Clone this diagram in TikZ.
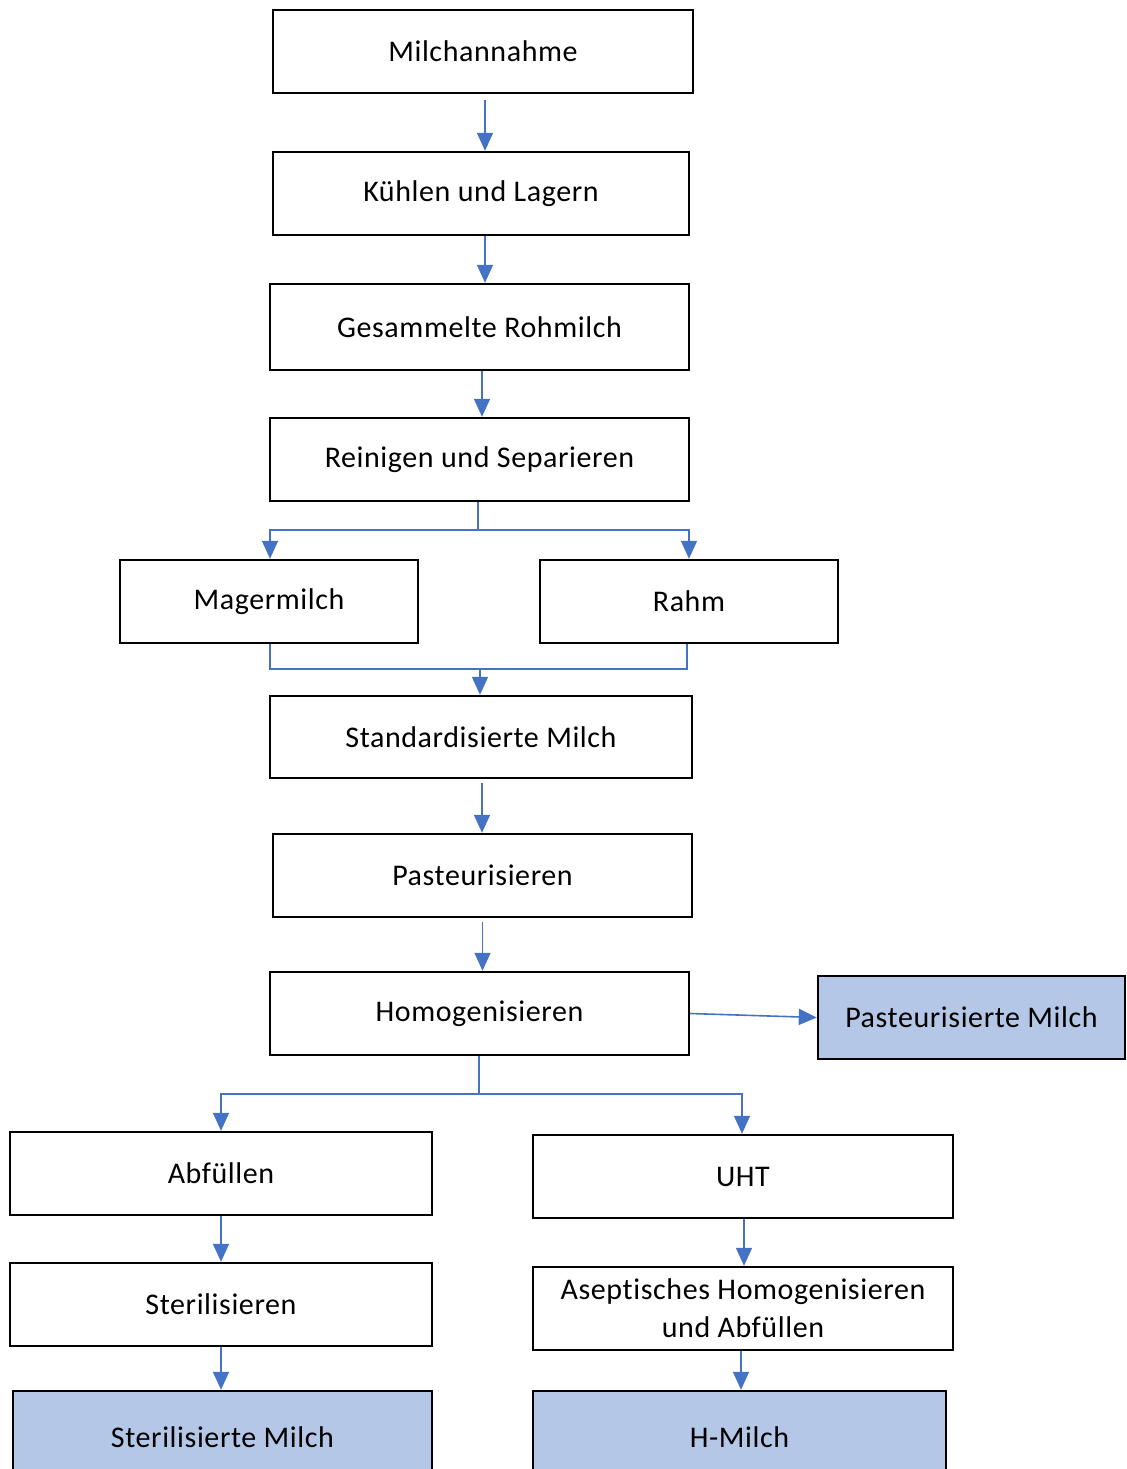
\documentclass[tikz,border=0pt]{standalone}
\usepackage{fontspec}
\setmainfont{Carlito}[LetterSpace=2, Ligatures=NoCommon, RawFeature={-liga;-dlig}]
\usetikzlibrary{arrows.meta}
\definecolor{arrblue}{HTML}{4472C4}
\definecolor{boxfill}{HTML}{B4C7E7}
\begin{document}
\begin{tikzpicture}[x=0.5pt,y=-0.5pt,
  box/.style={draw=black, line width=1.2pt, rectangle, inner sep=0pt, align=center,
    font=\fontsize{15}{19}\selectfont},
  endbox/.style={box, fill=boxfill},
  conn/.style={draw=arrblue, line width=0.8pt},
  arr/.style={conn, -{Triangle[width=8pt,length=9pt]}}]
\useasboundingbox (0,0) rectangle (1126,1469);
\begin{scope}
\clip (0,0) rectangle (1126,1469);
\node[box, minimum width=210pt, minimum height=41.5pt] (m1) at (483,51.5) {Milchannahme};
\node[box, minimum width=208pt, minimum height=41.5pt] (m2) at (481,193.5) {Kühlen und Lagern};
\node[box, minimum width=209.5pt, minimum height=43pt] (m3) at (479.5,327) {Gesammelte Rohmilch};
\node[box, minimum width=209.5pt, minimum height=41.5pt] (m4) at (479.5,459.5) {Reinigen und Separieren};
\node[box, minimum width=149pt, minimum height=41.5pt] (m5) at (269,601.5) {\raisebox{-2pt}{Magermilch}};
\node[box, minimum width=149pt, minimum height=41.5pt] (m6) at (689,601.5) {Rahm};
\node[box, minimum width=211pt, minimum height=41pt] (m7) at (481,737) {Standardisierte Milch};
\node[box, minimum width=209.5pt, minimum height=41.5pt] (m8) at (482.5,875.5) {Pasteurisieren};
\node[box, minimum width=209.5pt, minimum height=41.5pt] (m9) at (479.5,1013.5) {Homogenisieren};
\node[endbox, minimum width=153.5pt, minimum height=41.5pt] (m10) at (971.5,1017.5) {Pasteurisierte Milch};
\node[box, minimum width=211pt, minimum height=41.5pt] (m11) at (221,1173.5) {Abfüllen};
\node[box, minimum width=210pt, minimum height=41.5pt] (m12) at (743,1176.5) {UHT};
\node[box, minimum width=211pt, minimum height=41.5pt] (m13) at (221,1304.5) {Sterilisieren};
\node[box, minimum width=210pt, minimum height=41.5pt] (m14) at (743,1308.5) {Aseptisches Homogenisieren\\und Abfüllen};
\node[endbox, minimum width=209.5pt, minimum height=46pt] (m15) at (222.5,1437) {Sterilisierte Milch};
\node[endbox, minimum width=206.5pt, minimum height=46pt] (m16) at (739.5,1437) {H-Milch};
\end{scope}
% connectors
\draw[arr] ([xshift=1pt,yshift=-3pt]m1.south) -- ([xshift=1pt]m1.south |- m2.north);
\draw[arr] ([xshift=2pt]m2.south) -- ([xshift=2pt]m2.south |- m3.north);
\draw[arr] ([xshift=1.25pt]m3.south) -- ([xshift=1.25pt]m3.south |- m4.north);
\coordinate (b1) at (478,530);
\draw[arr] (m4.south -| b1) -- (b1) -| ([xshift=0.5pt]m5.north);
\draw[arr] (b1) -| (m6.north);
\coordinate (b2) at (480,669);
\draw[conn] ([xshift=0.5pt]m5.south) |- (b2) -| ([xshift=-1pt]m6.south);
\draw[arr] (b2) -- (b2 |- m7.north);
\draw[arr] ([xshift=0.5pt,yshift=-2pt]m7.south) -- ([xshift=0.5pt]m7.south |- m8.north);
\draw[arr] ([yshift=-2pt]m8.south) -- (m8.south |- m9.north);
\draw[arr] (m9.east) -- (m10.west);
\coordinate (b3) at (479,1094);
\draw[arr] (m9.south -| b3) -- (b3) -| (m11.north);
\draw[arr] (b3) -| ([xshift=-0.5pt]m12.north);
\draw[arr] (m11.south) -- (m11.south |- m13.north);
\draw[arr] ([xshift=0.5pt]m12.south) -- ([xshift=0.5pt]m12.south |- m14.north);
\draw[arr] (m13.south) -- (m13.south |- m15.north);
\draw[arr] ([xshift=-1pt]m14.south) -- ([xshift=-1pt]m14.south |- m16.north);
\end{tikzpicture}
\end{document}
